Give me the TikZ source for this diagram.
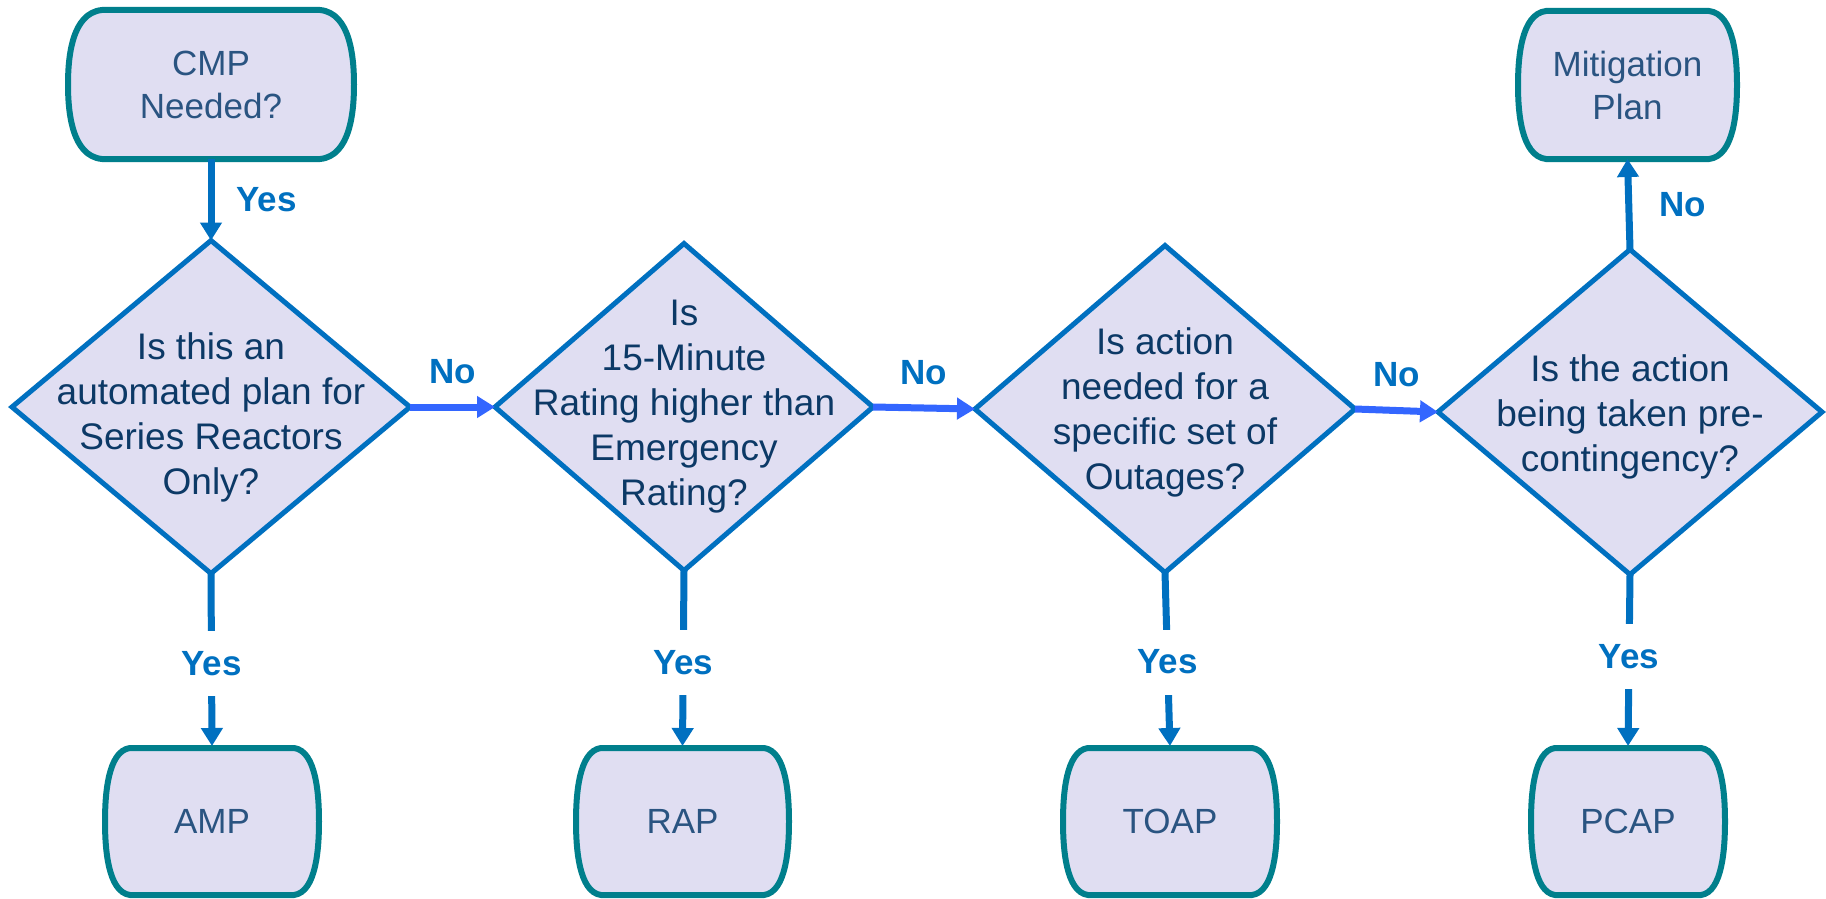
\documentclass[tikz,border=0pt]{standalone}
\usepackage{fontspec}
\setmainfont{Liberation Sans}
\usetikzlibrary{shapes.geometric,arrows.meta,calc,backgrounds}

\definecolor{diaBorder}{HTML}{0070C0}
\definecolor{boxFill}{HTML}{E0DEF2}
\definecolor{termBorder}{HTML}{007F8C}
\definecolor{vArrow}{HTML}{0070C0}
\definecolor{hArrow}{HTML}{3366FF}
\definecolor{diaText}{HTML}{0C3966}
\definecolor{termText}{HTML}{2A5481}
\definecolor{labelBlue}{HTML}{0070C0}

% outline of a terminal: flat top and bottom, tight corners, bulging sides
\newcommand{\termoutline}[2]{%
  \path[termshape]
    ($(#1.north west)+(#2,0)$) -- ($(#1.north east)+(-#2,0)$)
    .. controls ($(#1.north east)!0.02!(#1.south east)+(-0.1*#2,0)$) and ($(#1.north east)!0.325!(#1.south east)$) .. (#1.east)
    .. controls ($(#1.south east)!0.325!(#1.north east)$) and ($(#1.south east)!0.02!(#1.north east)+(-0.1*#2,0)$) .. ($(#1.south east)+(-#2,0)$)
    -- ($(#1.south west)+(#2,0)$)
    .. controls ($(#1.south west)!0.02!(#1.north west)+(0.1*#2,0)$) and ($(#1.south west)!0.325!(#1.north west)$) .. (#1.west)
    .. controls ($(#1.north west)!0.325!(#1.south west)$) and ($(#1.north west)!0.02!(#1.south west)+(0.1*#2,0)$) .. cycle;
}

\begin{document}
\begin{tikzpicture}[x=1pt,y=-1pt,
  dia/.style={diamond, draw=diaBorder, fill=boxFill, line width=5pt, inner sep=0pt, outer sep=0pt},
  diatext/.style={align=center, text=diaText, font=\fontsize{37}{45}\selectfont, inner sep=0pt},
  term/.style={rectangle, inner sep=0pt, outer sep=0pt, align=center, text=termText,
               font=\fontsize{35}{43}\selectfont},
  termshape/.style={draw=termBorder, fill=boxFill, line width=6pt},
  varrow/.style={draw=vArrow, line width=7pt, -{Triangle[width=21pt,length=18pt]}},
  harrow/.style={draw=hArrow, line width=7pt, -{Triangle[width=21pt,length=18pt]}},
  lab/.style={font=\fontsize{35}{42}\selectfont\bfseries, text=labelBlue, inner sep=0pt},
  gaplab/.style={lab, fill=white, minimum height=65pt, minimum width=72pt}]

\begin{pgfonlayer}{background}
  \fill[white] (0,0) rectangle (1826,899);
\end{pgfonlayer}
\useasboundingbox (0,0) rectangle (1826,899);

% terminals
\node[term, minimum width=286pt, minimum height=149pt] (cmp) at (211,84.5) {CMP\\Needed?};
\node[term, minimum width=219pt, minimum height=148pt] (mit) at (1627.5,85) {Mitigation\\Plan};
\node[term, minimum width=214pt, minimum height=147pt] (amp) at (212,821.5) {AMP};
\node[term, minimum width=213pt, minimum height=147pt] (rap) at (682.5,821.5) {RAP};
\node[term, minimum width=214pt, minimum height=147pt] (toap) at (1170,821.5) {TOAP};
\node[term, minimum width=194pt, minimum height=147pt] (pcap) at (1628,821.5) {PCAP};

\begin{pgfonlayer}{background}
  \termoutline{cmp}{34}
  \termoutline{mit}{28}
  \termoutline{amp}{25}
  \termoutline{rap}{25}
  \termoutline{toap}{25}
  \termoutline{pcap}{24}
\end{pgfonlayer}

% decisions
\node[dia, minimum width=398pt, minimum height=333pt] (d1) at (211,407) {};
\node[dia, minimum width=378pt, minimum height=327pt] (d2) at (684,407) {};
\node[dia, minimum width=380pt, minimum height=327pt] (d3) at (1165,409) {};
\node[dia, minimum width=384pt, minimum height=325pt] (d4) at (1630,412) {};

\node[diatext] (d1t) at (211,417) {Is this an\\automated plan for\\Series Reactors\\Only?};
\node[diatext] (d2t) at (684,407) {Is\\15-Minute\\Rating higher than\\Emergency\\Rating?};
\node[diatext] (d3t) at (1165,412) {Is action\\needed for a\\specific set of\\Outages?};
\node[diatext] (d4t) at (1630,417) {Is the action\\being taken pre-\\contingency?};

% connectors
\draw[varrow] (cmp.south) -- node[lab, right=22pt] {Yes} (d1.north);
\draw[harrow] (d1.east) -- node[lab, above=20pt] {No} (d2.west);
\draw[harrow] (d2.east) -- node[lab, above=20pt] {No} (d3.west);
\draw[harrow] (d3.east) -- node[lab, above=20pt] {No} (d4.west);
\draw[varrow] (d4.north) -- node[lab, right=27pt] {No} (mit.south);

\draw[varrow, shorten >=2pt] (d1.south) -- node[gaplab, pos=0.514] {Yes} (amp.north);
\draw[varrow, shorten >=2pt] (d2.south) -- node[gaplab, pos=0.52] {Yes} (rap.north);
\draw[varrow, shorten >=2pt] (d3.south) -- node[gaplab, pos=0.51] {Yes} (toap.north);
\draw[varrow, shorten >=2pt] (d4.south) -- node[gaplab, pos=0.474] {Yes} (pcap.north);

\end{tikzpicture}
\end{document}
